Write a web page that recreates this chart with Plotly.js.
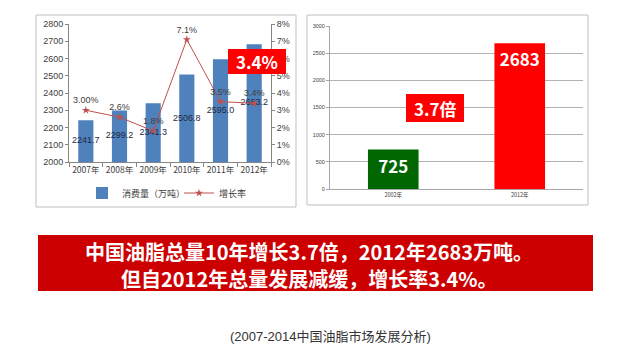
<!DOCTYPE html>
<html>
<head>
<meta charset="utf-8">
<script src="https://cdn.plot.ly/plotly-3.0.1.min.js"></script>
<style>html,body{margin:0;padding:0;background:#fff;}#chart{width:621px;height:361px;}</style>
</head>
<body>
<div id="chart"></div>
<script>
// ---- Data ----
const years = ['2007年', '2008年', '2009年', '2010年', '2011年', '2012年'];
const consumption = [2241.7, 2299.2, 2341.3, 2506.8, 2595.0, 2683.2];   // 万吨
const consumptionLabels = ['2241.7', '2299.2', '2341.3', '2506.8', '2595.0', '2683.2'];
const growthRate = [3.0, 2.6, 1.8, 7.1, 3.5, 3.4];                       // %
const growthLabels = ['3.00%', '2.6%', '1.8%', '7.1%', '3.5%', '3.4%'];
const compareYears = ['2002年', '2012年'];
const compareValues = [725, 2683];
const compareLabels = ['725', '2683'];
const leftTicks = [2000, 2100, 2200, 2300, 2400, 2500, 2600, 2700, 2800];
const rightTicks = [0, 1, 2, 3, 4, 5, 6, 7, 8];
const rightTickLabels = ['0%', '1%', '2%', '3%', '4%', '5%', '6%', '7%', '8%'];
const leftAxisBase = 2000;

// ---- layout helpers (pixel -> paper) ----
const W = 621, H = 361;
const px = x => x / W;
const py = y => 1 - y / H;

const FONT = 'Liberation Sans, Noto Sans CJK SC, sans-serif';
const CJK = 'Noto Sans CJK SC, sans-serif';

const traces = [
  {
    type: 'bar', name: '消费量（万吨）', x: years, y: consumption,
    xaxis: 'x', yaxis: 'y',
    marker: {color: '#4F81BD'}, width: 0.45,
    hoverinfo: 'skip'
  },
  {
    // centred data labels of the bars (Excel "center" position)
    type: 'scatter', mode: 'text', x: years,
    y: consumption.map(v => (v + leftAxisBase) / 2),
    xaxis: 'x', yaxis: 'y',
    text: consumptionLabels, textposition: 'middle center',
    textfont: {size: 9, color: '#1F2A44', family: FONT},
    showlegend: false, cliponaxis: false, hoverinfo: 'skip'
  },
  {
    type: 'scatter', mode: 'lines+markers+text', name: '增长率', x: years, y: growthRate,
    xaxis: 'x', yaxis: 'y2',
    line: {color: '#C0504D', width: 1},
    marker: {symbol: 'star', size: 6, color: '#C0504D'},
    text: growthLabels, textposition: 'top center',
    textfont: {size: 9, color: '#404040', family: FONT},
    cliponaxis: false, hoverinfo: 'skip'
  },
  {
    type: 'bar', x: compareYears, y: compareValues, xaxis: 'x2', yaxis: 'y3',
    marker: {color: ['#006600', '#FF0000']}, width: 0.4,
    text: compareLabels, textposition: 'inside', insidetextanchor: 'end',
    constraintext: 'none', textangle: 0,
    insidetextfont: {size: 17, color: '#FFFFFF', family: CJK, weight: 'bold'},
    showlegend: false, hoverinfo: 'skip'
  }
];

const axisCommon = {
  showline: true, linecolor: '#868686', linewidth: 1,
  ticks: 'outside', tickcolor: '#868686', ticklen: 3,
  zeroline: false, fixedrange: true
};

const layout = {
  width: W, height: H,
  margin: {l: 0, r: 0, t: 0, b: 0},
  paper_bgcolor: '#FFFFFF', plot_bgcolor: 'rgba(0,0,0,0)',
  font: {family: FONT, color: '#404040'},
  showlegend: true,
  legend: {
    orientation: 'h', x: px(82), y: py(193), xanchor: 'left', yanchor: 'middle',
    font: {size: 9, family: CJK, color: '#404040'},
    bgcolor: 'rgba(0,0,0,0)', itemwidth: 30, entrywidth: 52, tracegroupgap: 0
  },
  xaxis: Object.assign({}, axisCommon, {
    domain: [px(69), px(271)], anchor: 'y',
    tickson: 'boundaries', ticklen: 4, tickangle: 0,
    tickfont: {size: 8.5, family: CJK, color: '#404040'}
  }),
  yaxis: Object.assign({}, axisCommon, {
    domain: [py(162), py(24)], anchor: 'x', range: [2000, 2800],
    tickvals: leftTicks, showgrid: false,
    tickfont: {size: 9, color: '#404040'}
  }),
  yaxis2: Object.assign({}, axisCommon, {
    overlaying: 'y', side: 'right', anchor: 'x', range: [0, 8],
    tickvals: rightTicks, ticktext: rightTickLabels, showgrid: false,
    tickfont: {size: 9, color: '#404040'}
  }),
  xaxis2: Object.assign({}, axisCommon, {
    domain: [px(330), px(583)], anchor: 'y3',
    ticks: '', linecolor: '#A6A6A6', tickangle: 0,
    tickfont: {size: 5.5, family: CJK, color: '#404040'}
  }),
  yaxis3: Object.assign({}, axisCommon, {
    domain: [py(189), py(26)], anchor: 'x2', range: [0, 3000], dtick: 500,
    showgrid: true, gridcolor: '#B3B3B3', gridwidth: 1,
    linecolor: '#A6A6A6', tickcolor: '#A6A6A6', ticklen: 3,
    tickfont: {size: 5.5, color: '#404040'}
  }),
  shapes: [
    // panel borders
    {type: 'rect', xref: 'paper', yref: 'paper', x0: px(36), x1: px(296), y0: py(207), y1: py(15),
     line: {color: '#BFBFBF', width: 1}, fillcolor: 'rgba(0,0,0,0)', layer: 'below'},
    {type: 'rect', xref: 'paper', yref: 'paper', x0: px(307), x1: px(588), y0: py(205), y1: py(15),
     line: {color: '#BFBFBF', width: 1}, fillcolor: 'rgba(0,0,0,0)', layer: 'below'},
    // red callout boxes
    {type: 'rect', xref: 'paper', yref: 'paper', x0: px(228), x1: px(286), y0: py(74), y1: py(49),
     line: {width: 0}, fillcolor: '#FF0000', layer: 'above'},
    {type: 'rect', xref: 'paper', yref: 'paper', x0: px(406), x1: px(464), y0: py(122), y1: py(94),
     line: {width: 0}, fillcolor: '#FF0000', layer: 'above'},
    // banner
    {type: 'rect', xref: 'paper', yref: 'paper', x0: px(38), x1: px(593), y0: py(291), y1: py(235),
     line: {width: 0}, fillcolor: '#CC0000', layer: 'above'}
  ],
  annotations: [
    {xref: 'paper', yref: 'paper', x: px(257), y: py(61.5), text: '3.4%', showarrow: false,
     xanchor: 'center', yanchor: 'middle',
     font: {size: 17, color: '#FFFFFF', family: CJK, weight: 'bold'}},
    {xref: 'paper', yref: 'paper', x: px(435), y: py(108), text: '3.7倍', showarrow: false,
     xanchor: 'center', yanchor: 'middle',
     font: {size: 17, color: '#FFFFFF', family: CJK, weight: 'bold'}},
    {xref: 'paper', yref: 'paper', x: px(309), y: py(251), text: '中国油脂总量10年增长3.7倍，2012年2683万吨。', showarrow: false,
     xanchor: 'center', yanchor: 'middle',
     font: {size: 20, color: '#FFFFFF', family: CJK, weight: 'bold'}},
    {xref: 'paper', yref: 'paper', x: px(309), y: py(278), text: '但自2012年总量发展减缓，增长率3.4%。', showarrow: false,
     xanchor: 'center', yanchor: 'middle',
     font: {size: 20, color: '#FFFFFF', family: CJK, weight: 'bold'}},
    {xref: 'paper', yref: 'paper', x: px(330), y: py(336), text: '(2007-2014中国油脂市场发展分析)', showarrow: false,
     xanchor: 'center', yanchor: 'middle',
     font: {size: 13, color: '#333333', family: 'Liberation Sans, Noto Sans CJK SC, sans-serif'}}
  ]
};

Plotly.newPlot('chart', traces, layout, {staticPlot: true, displayModeBar: false});
</script>
</body>
</html>
